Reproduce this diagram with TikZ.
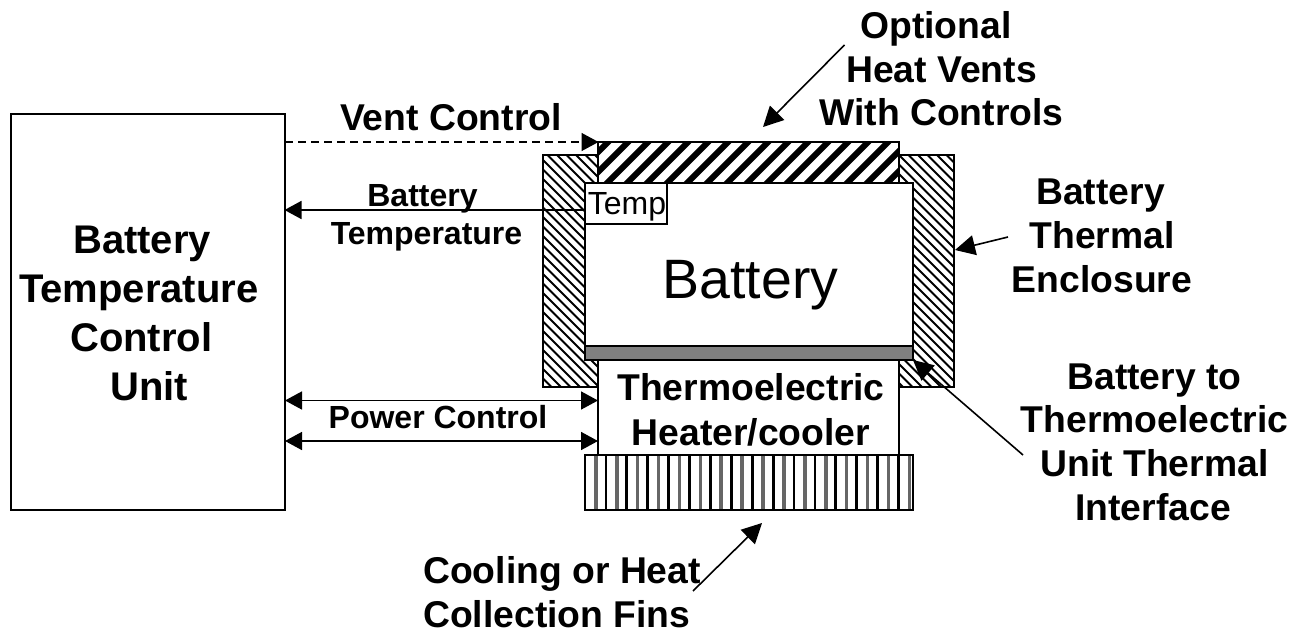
\documentclass[tikz,border=0pt]{standalone}
\usepackage{fontspec}
\setmainfont{Liberation Sans}
\usetikzlibrary{arrows.meta}
\newcommand{\fz}[2]{\fontsize{#1}{#2}\selectfont}
\tikzset{
  x=1pt,y=-1pt,
  outline/.style={draw=black,line width=1.6pt,inner sep=0pt,outer sep=0pt},
  lab/.style={font=\bfseries\fz{37.3}{43.6},inner sep=0pt,align=center},
  small/.style={font=\bfseries\fz{32}{38},inner sep=0pt,align=center},
  arr/.style={draw=black,line width=1.6pt,-{Triangle[length=17pt,width=18pt]},shorten >=-0.5pt},
  darr/.style={draw=black,line width=1.6pt,{Triangle[length=17pt,width=18pt]}-{Triangle[length=17pt,width=18pt]}},
  dasharr/.style={arr,line width=1.4pt,dash pattern=on 8pt off 5pt},
  pointer/.style={draw=black,line width=1.6pt,-{Triangle[length=20pt,width=20pt]}},
}
\begin{document}
\begin{tikzpicture}
\useasboundingbox (0,0) rectangle (1292,629);
\fill[white] (0,0) rectangle (1292,629);
% enclosure hatch
\begin{scope}
  \clip (543,155) rectangle (954,387);
  \foreach \i in {0,...,68} \draw[line width=2pt] (310+\i*9.5,155) -- +(232,232);
\end{scope}
\draw[outline] (543,155) rectangle (954,387);
% vents
\node[outline,fill=white,minimum width=301pt,minimum height=41pt] (vent) at (748.5,162.5) {};
\begin{scope}
  \clip (598,142) rectangle (899,183);
  \foreach \i in {0,...,19} \draw[line width=6pt] (560+\i*20,190) -- +(55,-55);
\end{scope}
\node[outline,minimum width=301pt,minimum height=41pt] (ventedge) at (748.5,162.5) {};
% thermoelectric
\node[outline,fill=white,minimum width=301pt,minimum height=95pt] (teu) at (748.5,407.5) {};
\node[inner sep=0pt,align=center,font=\bfseries\fz{37.3}{45}] (teulab) at (751,410) {Thermoelectric\\Heater/cooler};
% battery
\node[outline,fill=white,minimum width=328pt,minimum height=163pt] (batt) at (749,264.5) {};
\node[inner sep=0pt,font=\fz{55.5}{60}] (battlab) at (750.5,285) {Battery};
\node[outline,fill=black!50,minimum width=328pt,minimum height=14pt] (iface) at (749,353) {};
\node[outline,fill=white,minimum width=82pt,minimum height=41pt] (temp) at (626,203.5) {};
\node[inner sep=0pt,font=\fz{32}{34}] (templab) at (627,207) {Temp};
% fins
\begin{scope}
  \clip (585,455) rectangle (913,510);
  \foreach \i in {0,...,15} {
    \draw[line width=2.8pt,black] (585+\i*20.9,455) -- +(0,55);
    \draw[line width=3.6pt,black!60] (595.8+\i*20.9,455) -- +(0,55);
  }
\end{scope}
\node[outline,minimum width=328pt,minimum height=55pt] (fins) at (749,482.5) {};
% control unit
\node[outline,minimum width=274pt,minimum height=396pt] (ctrl) at (148,312) {};
\node[inner sep=0pt,font=\bfseries\fz{40}{49},align=left,anchor=west] (ctrltxt) at (19,313.5) {\hspace*{54pt}Battery\\Temperature\\\hspace*{51pt}Control\\\hspace*{91pt}Unit};
% ports
\coordinate (ventsrc) at (ctrl.east |- vent.north);
\coordinate (tempsrc) at (585,210);
\coordinate (p1) at (teu.west |- 0,400.5);
\coordinate (p2) at (teu.west |- 0,441);
% connectors
\draw[dasharr] (ventsrc) -- (vent.north west);
\draw[arr] (tempsrc) -- (ctrl.east |- tempsrc);
\draw[darr] (ctrl.east |- p1) -- (p1);
\draw[darr] (ctrl.east |- p2) -- (p2);
% labels
\node[lab] (ventlab) at (451,117) {Vent Control};
\node[small] (temptxt) at (426.5,218) {Battery\hspace*{8pt}\\Temperature};
\node[small] (powtxt) at (438,417) {Power Control};
\node[lab] (heatlab) at (941.5,69) {Optional\hspace*{11pt}\\Heat Vents\\With Controls};
\node[lab,font=\bfseries\fz{37.3}{44}] (enclab) at (1102,236) {Battery\hspace*{3pt}\\Thermal\hspace*{9pt}\\Enclosure};
\node[lab,font=\bfseries\fz{37.3}{43.7}] (ifacelab) at (1154.5,442) {Battery to\\Thermoelectric\\Unit Thermal\hspace*{12pt}\\Interface\hspace*{3pt}};
\node[lab,font=\bfseries\fz{37.3}{44},align=left] (finlab) at (562,592) {Cooling or Heat\\Collection Fins};
% pointers
\coordinate (p3s) at (844.5,45); \coordinate (p3e) at (763,127);
\coordinate (p4s) at (1008,237); \coordinate (p4e) at (955,250);
\coordinate (p5s) at (1023,455); \coordinate (p5e) at (913,360);
\coordinate (p6s) at (693,591); \coordinate (p6e) at (762,523);
\draw[pointer] (p3s) -- (p3e);
\draw[pointer] (p4s) -- (p4e);
\draw[pointer] (p5s) -- (p5e);
\draw[pointer] (p6s) -- (p6e);
\end{tikzpicture}
\end{document}
